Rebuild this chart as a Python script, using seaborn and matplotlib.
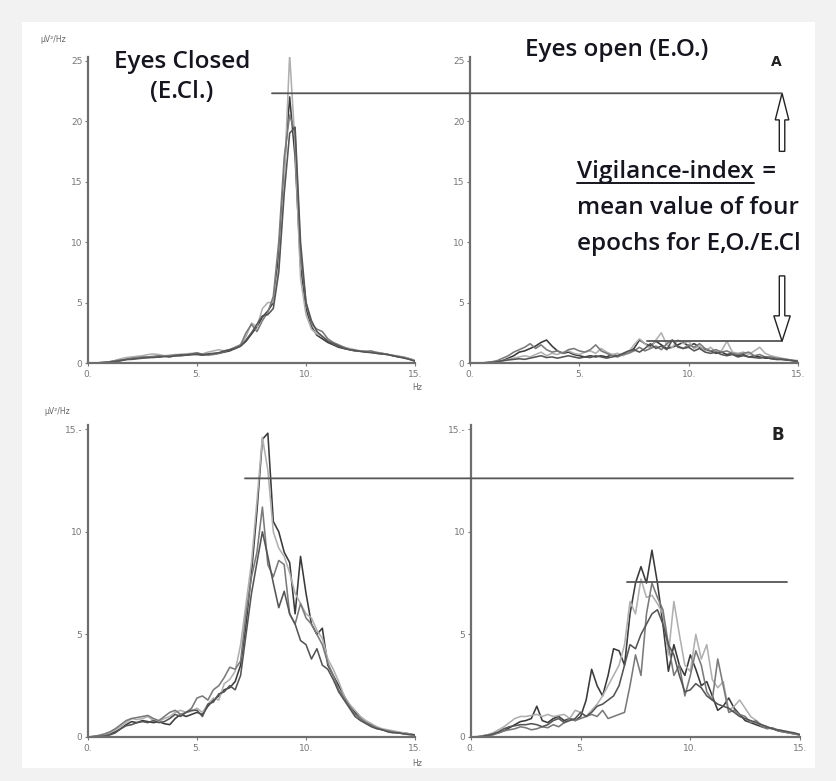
import numpy as np
import pandas as pd
import matplotlib
matplotlib.use("Agg")
import matplotlib.pyplot as plt
import seaborn as sns
from matplotlib.patches import ConnectionPatch, FancyArrow, Rectangle
from matplotlib.lines import Line2D

# ---------------- data ----------------
freq = [i * 0.25 for i in range(61)]  # 0 .. 15 Hz
epochs = ["epoch 1", "epoch 2", "epoch 3", "epoch 4"]

# A: eyes closed
a1 = [0, 0, 0.02, 0.05, 0.1, 0.15, 0.2, 0.3, 0.35, 0.4,
      0.45, 0.45, 0.5, 0.5, 0.55, 0.55, 0.6, 0.6, 0.65, 0.7,
      0.7, 0.65, 0.7, 0.75, 0.8, 0.9, 1.0, 1.2, 1.4, 1.8,
      2.4, 3.0, 3.8, 4.3, 5.0, 9.0, 16.0, 22.0, 17.0, 8.0,
      4.5, 3.0, 2.3, 2.0, 1.7, 1.5, 1.3, 1.2, 1.1, 1.0,
      1.0, 0.9, 0.9, 0.8, 0.75, 0.7, 0.6, 0.5, 0.45, 0.35, 0.2]
a2 = [0, 0, 0, 0.05, 0.1, 0.2, 0.35, 0.45, 0.5, 0.55,
      0.6, 0.7, 0.75, 0.7, 0.6, 0.65, 0.7, 0.7, 0.75, 0.8,
      0.8, 0.75, 0.9, 1.0, 1.1, 1.0, 1.1, 1.3, 1.5, 2.2,
      3.3, 3.0, 4.5, 5.0, 5.0, 8.0, 15.0, 25.5, 18.0, 7.0,
      4.0, 2.8, 2.4, 2.2, 1.9, 1.6, 1.4, 1.3, 1.2, 1.1,
      1.0, 1.0, 0.95, 0.9, 0.8, 0.7, 0.65, 0.55, 0.5, 0.35, 0.25]
a3 = [0, 0, 0.02, 0.05, 0.1, 0.2, 0.25, 0.3, 0.4, 0.45,
      0.5, 0.5, 0.55, 0.6, 0.55, 0.6, 0.65, 0.7, 0.7, 0.75,
      0.85, 0.7, 0.65, 0.7, 0.8, 0.95, 1.1, 1.3, 1.5, 2.5,
      3.2, 2.6, 3.5, 4.2, 5.5, 10.0, 17.0, 20.5, 19.0, 9.0,
      5.0, 3.2, 2.8, 2.6, 2.0, 1.7, 1.5, 1.3, 1.1, 1.0,
      1.0, 0.95, 1.0, 0.85, 0.8, 0.7, 0.6, 0.55, 0.45, 0.3, 0.15]
a4 = [0, 0, 0, 0.03, 0.08, 0.12, 0.2, 0.28, 0.3, 0.35,
      0.4, 0.45, 0.45, 0.5, 0.55, 0.5, 0.6, 0.65, 0.65, 0.7,
      0.75, 0.7, 0.75, 0.8, 0.85, 1.0, 1.1, 1.2, 1.4, 1.9,
      2.5, 3.2, 3.9, 4.0, 4.5, 7.5, 14.0, 19.0, 19.5, 10.0,
      5.0, 3.5, 2.6, 2.2, 1.8, 1.6, 1.4, 1.2, 1.1, 1.05,
      0.95, 0.9, 0.85, 0.8, 0.75, 0.7, 0.6, 0.5, 0.4, 0.3, 0.15]

# A: eyes open
b1 = [0, 0, 0, 0, 0.05, 0.1, 0.2, 0.4, 0.6, 0.9,
      1.0, 1.2, 1.4, 1.7, 1.9, 1.4, 1.0, 0.8, 0.9, 0.7,
      0.6, 0.5, 0.6, 0.5, 0.6, 0.5, 0.7, 0.6, 0.7, 0.9,
      1.2, 1.9, 1.6, 1.4, 1.8, 1.5, 1.2, 1.3, 1.5, 1.7,
      1.4, 1.6, 1.3, 1.1, 1.0, 0.8, 0.9, 0.7, 0.8, 0.6,
      0.7, 0.5, 0.6, 0.5, 0.4, 0.4, 0.3, 0.3, 0.25, 0.2, 0.1]
b2 = [0, 0, 0, 0.02, 0.05, 0.1, 0.15, 0.3, 0.4, 0.5,
      0.6, 0.5, 0.7, 0.9, 0.6, 0.8, 0.7, 0.9, 1.0, 0.8,
      0.7, 0.9, 1.0, 0.8, 1.2, 0.9, 0.7, 0.8, 0.6, 0.9,
      1.5, 2.0, 1.6, 1.2, 1.9, 2.5, 1.5, 1.3, 1.9, 1.6,
      1.8, 1.2, 1.4, 1.0, 1.3, 0.9, 1.0, 1.8, 0.9, 0.8,
      0.9, 0.7, 1.0, 1.3, 0.8, 0.6, 0.5, 0.4, 0.3, 0.25, 0.2]
b3 = [0, 0, 0, 0.05, 0.1, 0.2, 0.4, 0.6, 0.9, 1.1,
      1.3, 1.6, 1.2, 1.5, 1.1, 0.9, 1.0, 0.8, 1.1, 1.2,
      1.0, 0.9, 1.1, 1.5, 1.0, 0.8, 0.6, 0.5, 0.7, 0.8,
      1.0, 1.3, 1.0, 1.2, 1.4, 1.1, 1.6, 1.9, 1.3, 1.2,
      1.5, 1.3, 1.6, 1.2, 1.0, 1.1, 0.9, 1.0, 0.8, 0.7,
      0.8, 0.9, 0.6, 0.7, 0.5, 0.5, 0.4, 0.35, 0.3, 0.2, 0.15]
b4 = [0, 0, 0, 0.02, 0.05, 0.1, 0.2, 0.25, 0.3, 0.35,
      0.3, 0.4, 0.5, 0.6, 0.45, 0.5, 0.4, 0.5, 0.6, 0.5,
      0.4, 0.5, 0.45, 0.6, 0.5, 0.4, 0.5, 0.6, 0.8, 1.0,
      1.1, 0.9, 1.2, 1.6, 1.2, 1.4, 1.1, 1.9, 1.4, 1.2,
      1.3, 1.0, 1.2, 0.9, 0.8, 0.9, 0.7, 0.6, 0.7, 0.5,
      0.6, 0.5, 0.45, 0.4, 0.5, 0.35, 0.3, 0.3, 0.25, 0.2, 0.15]

# B: eyes closed
c1 = [0, 0.02, 0.05, 0.1, 0.15, 0.25, 0.4, 0.6, 0.75, 0.7,
      0.8, 0.75, 0.7, 0.75, 0.65, 0.6, 0.9, 1.1, 1.0, 1.1,
      1.2, 1.1, 1.5, 1.8, 2.0, 2.3, 2.4, 2.7, 3.5, 5.5,
      8.0, 11.0, 14.5, 14.8, 10.5, 10.0, 9.0, 8.5, 6.0, 8.8,
      7.0, 5.5, 5.0, 5.3, 3.5, 3.0, 2.5, 2.0, 1.5, 1.2,
      0.9, 0.7, 0.6, 0.45, 0.35, 0.3, 0.25, 0.2, 0.2, 0.15, 0.1]
c2 = [0, 0.02, 0.05, 0.1, 0.2, 0.35, 0.5, 0.7, 0.9, 0.85,
      0.9, 1.0, 0.8, 0.75, 0.9, 1.0, 1.2, 1.3, 1.2, 1.25,
      1.4, 1.2, 1.6, 1.9, 1.8, 2.6, 2.8, 3.2, 4.5, 6.5,
      8.5, 11.5, 14.6, 13.0, 10.0, 9.2, 8.8, 8.0, 7.0, 6.5,
      6.0, 5.8, 5.2, 4.8, 3.8, 3.3, 2.7, 2.0, 1.6, 1.3,
      1.0, 0.8, 0.65, 0.5, 0.4, 0.35, 0.3, 0.25, 0.2, 0.15, 0.1]
c3 = [0, 0.03, 0.08, 0.15, 0.25, 0.4, 0.6, 0.8, 0.9, 0.95,
      1.0, 1.05, 0.9, 0.8, 1.0, 1.2, 1.3, 1.1, 1.2, 1.4,
      1.9, 2.0, 1.8, 2.3, 2.5, 2.9, 3.4, 3.3, 3.7, 6.0,
      7.8, 9.0, 11.2, 8.4, 7.8, 8.6, 8.4, 6.0, 5.5, 6.5,
      5.8, 5.5, 5.0, 4.5, 3.6, 3.0, 2.3, 1.9, 1.5, 1.1,
      0.9, 0.7, 0.55, 0.45, 0.35, 0.3, 0.25, 0.2, 0.15, 0.12, 0.1]
c4 = [0, 0.01, 0.02, 0.05, 0.1, 0.2, 0.4, 0.55, 0.6, 0.7,
      0.75, 0.7, 0.8, 0.7, 0.75, 0.9, 1.1, 1.0, 1.2, 1.3,
      1.3, 1.0, 1.6, 1.7, 2.1, 2.2, 2.5, 2.3, 3.0, 5.0,
      7.0, 8.5, 10.0, 8.8, 7.5, 6.3, 7.1, 6.0, 5.5, 4.7,
      4.5, 3.8, 4.3, 3.5, 3.3, 2.8, 2.2, 1.8, 1.4, 1.0,
      0.8, 0.65, 0.5, 0.4, 0.35, 0.25, 0.2, 0.2, 0.15, 0.12, 0.1]

# B: eyes open
d1 = [0, 0, 0.05, 0.1, 0.15, 0.2, 0.3, 0.45, 0.6, 0.75,
      0.8, 0.9, 1.5, 0.8, 0.7, 0.9, 1.0, 0.8, 0.9, 0.8,
      1.0, 1.8, 3.3, 2.5, 2.0, 3.0, 4.3, 4.2, 3.5, 6.0,
      7.5, 8.3, 7.5, 9.1, 7.5, 5.5, 3.2, 4.5, 3.5, 3.0,
      4.0, 3.3, 2.5, 2.7, 2.0, 1.3, 1.5, 1.9, 1.4, 1.1,
      0.8, 0.7, 0.6, 0.5, 0.45, 0.4, 0.3, 0.25, 0.2, 0.15, 0.1]
d2 = [0, 0.02, 0.05, 0.1, 0.2, 0.35, 0.5, 0.7, 0.9, 1.0,
      1.0, 1.05, 1.1, 1.0, 1.1, 1.0, 1.05, 1.1, 0.9, 1.3,
      1.2, 1.0, 1.3, 1.6, 2.0, 2.5, 3.0, 3.5, 4.5, 6.6,
      6.0, 7.7, 6.8, 6.9, 6.5, 6.0, 4.0, 6.6, 5.0, 3.5,
      3.2, 5.0, 3.8, 4.5, 2.8, 2.4, 2.7, 1.3, 1.5, 1.8,
      1.4, 1.0, 0.8, 0.6, 0.5, 0.4, 0.35, 0.3, 0.2, 0.15, 0.12]
d3 = [0, 0, 0.02, 0.05, 0.1, 0.2, 0.3, 0.35, 0.4, 0.5,
      0.45, 0.35, 0.4, 0.5, 0.45, 0.6, 0.5, 0.7, 0.9, 0.8,
      0.9, 1.0, 1.1, 1.0, 1.3, 0.9, 1.0, 1.1, 1.2, 2.5,
      4.0, 3.0, 6.0, 7.5, 6.8, 6.2, 4.5, 3.0, 3.5, 2.0,
      3.0, 4.2, 3.5, 2.2, 1.8, 3.8, 2.5, 1.2, 1.3, 1.1,
      1.0, 0.7, 0.8, 0.5, 0.4, 0.45, 0.3, 0.25, 0.2, 0.15, 0.1]
d4 = [0, 0, 0.03, 0.08, 0.15, 0.25, 0.4, 0.5, 0.55, 0.6,
      0.6, 0.65, 0.6, 0.5, 0.6, 0.8, 0.9, 0.7, 0.8, 0.9,
      1.2, 1.0, 1.2, 1.5, 1.6, 1.8, 2.0, 2.5, 3.5, 4.5,
      4.3, 5.0, 5.5, 6.0, 6.2, 5.5, 4.5, 4.0, 3.0, 2.2,
      2.3, 2.6, 2.4, 2.0, 1.8, 1.6, 1.5, 1.4, 1.2, 1.0,
      0.9, 0.8, 0.7, 0.6, 0.5, 0.4, 0.35, 0.3, 0.25, 0.2, 0.12]

# vigilance (mean) levels
vig_A_closed = 22.3
vig_A_open = 1.8
vig_B_closed = 12.6
vig_B_open = 7.55

xticks = [0, 5, 10, 15]
xtick_labels = ["0.", "5.", "10.", "15."]
yticks_A = [0, 5, 10, 15, 20, 25]
ytick_labels_A = ["0", "5", "10", "15", "20", "25"]
yticks_B = [0, 5, 10, 15]
ytick_labels_B = ["0", "5", "10", "15.-"]

# ---------------- figure ----------------
W, H = 837, 781
sns.set_theme(style="white")
plt.rcParams["font.family"] = ["DejaVu Sans"]

fig = plt.figure(figsize=(W / 100, H / 100), dpi=100)
fig.patch.set_facecolor("#f2f2f2")
fig.add_artist(Rectangle((22 / W, 1 - 768 / H), (815 - 22) / W, (768 - 22) / H,
                         transform=fig.transFigure, facecolor="white",
                         edgecolor="none", zorder=0))


def px(x, y):
    return (x / W, 1 - y / H)


def make_ax(l, r, top, bot):
    return fig.add_axes([l / W, 1 - bot / H, (r - l) / W, (bot - top) / H])


axAL = make_ax(88, 415, 57, 363)
axAR = make_ax(470, 798, 57, 363)
axBL = make_ax(88, 415, 425, 737)
axBR = make_ax(471, 800, 425, 737)

palette = ["#3a3a3a", "#b0b0b0", "#7a7a7a", "#555555"]


def draw(ax, series, yt, ytl, ymax):
    df = pd.DataFrame({
        "Hz": np.tile(freq, 4),
        "power": np.concatenate(series),
        "epoch": np.repeat(epochs, len(freq)),
    })
    sns.lineplot(data=df, x="Hz", y="power", hue="epoch", palette=palette,
                 legend=False, ax=ax, linewidth=1.15, estimator=None)
    ax.set_xlim(0, 15)
    ax.set_ylim(0, ymax)
    ax.set_facecolor("none")
    ax.set_xlabel("")
    ax.set_ylabel("")
    for s in ["top", "right"]:
        ax.spines[s].set_visible(False)
    for s in ["left", "bottom"]:
        ax.spines[s].set_color("#6e6e6e")
        ax.spines[s].set_linewidth(1.6)
    ax.set_xticks(xticks)
    ax.set_xticklabels(xtick_labels)
    ax.set_yticks(yt)
    ax.set_yticklabels(ytl)
    ax.tick_params(axis="both", labelsize=6.5, colors="#777777",
                   length=2, width=0.8, pad=2, direction="out",
                   left=True, bottom=True)
    ax.tick_params(axis="x", pad=3)


draw(axAL, [a1, a2, a3, a4], yticks_A, ytick_labels_A, 25.3)
draw(axAR, [b1, b2, b3, b4], yticks_A, ytick_labels_A, 25.3)
draw(axBL, [c1, c2, c3, c4], yticks_B, ytick_labels_B, 15.2)
draw(axBR, [d1, d2, d3, d4], yticks_B, ytick_labels_B, 15.2)

# vigilance lines
line_kw = dict(color="#555555", linewidth=1.3, zorder=5)
fig.add_artist(ConnectionPatch(xyA=(8.44, vig_A_closed), coordsA=axAL.transData,
                               xyB=(14.27, vig_A_closed), coordsB=axAR.transData,
                               **line_kw))
axAR.plot([8.1, 14.27], [vig_A_open, vig_A_open], clip_on=False, **line_kw)
fig.add_artist(ConnectionPatch(xyA=(7.2, vig_B_closed), coordsA=axBL.transData,
                               xyB=(14.68, vig_B_closed), coordsB=axBR.transData,
                               **line_kw))
axBR.plot([7.1, 14.4], [vig_B_open, vig_B_open], clip_on=False, **line_kw)

# hollow arrows
arrow_kw = dict(facecolor="white", edgecolor="#222222", linewidth=1.0,
                length_includes_head=True, zorder=6, clip_on=False)
axAR.add_patch(FancyArrow(14.27, 17.5, 0, vig_A_closed - 17.5, width=0.25,
                          head_width=0.62, head_length=2.2, **arrow_kw))
axAR.add_patch(FancyArrow(14.27, 7.2, 0, vig_A_open - 7.2, width=0.25,
                          head_width=0.75, head_length=2.1, **arrow_kw))

# small axis titles
small = dict(fontsize=5.5, color="#666666")
fig.text(*px(40, 40), "μV²/Hz", ha="left", va="center", **small)
fig.text(*px(44, 411), "μV²/Hz", ha="left", va="center", **small)
fig.text(*px(417, 388), "Hz", ha="center", va="center", **small)
fig.text(*px(417, 763), "Hz", ha="center", va="center", **small)

# big labels
big = dict(family=["Open Sans", "DejaVu Sans"], fontweight="semibold",
           fontsize=17.5, color="#15151f")
fig.text(*px(182, 62), "Eyes Closed", ha="center", va="center", **big)
fig.text(*px(182, 92), "(E.Cl.)", ha="center", va="center", **big)
fig.text(*px(617, 50), "Eyes open (E.O.)", ha="center", va="center", **big)
t1 = fig.text(*px(577, 172), "Vigilance-index", ha="left", va="center", **big)
fig.canvas.draw()
r = fig.canvas.get_renderer()
bb = t1.get_window_extent(renderer=r)
fig.text((bb.x1 + 2) / W, 1 - 172 / H, " =", ha="left", va="center", **big)
fig.add_artist(Line2D([bb.x0 / W, bb.x1 / W], [1 - 183 / H, 1 - 183 / H],
                      transform=fig.transFigure, color="#15151f", linewidth=1.4))
fig.text(*px(577, 208), "mean value of four", ha="left", va="center", **big)
fig.text(*px(577, 244), "epochs for E,O./E.Cl", ha="left", va="center", **big)

fig.text(*px(776, 62), "A", ha="center", va="center", fontsize=10,
         fontweight="bold", color="#222222")
fig.text(*px(778, 435), "B", ha="center", va="center", fontsize=12,
         fontweight="bold", color="#222222")

fig.savefig("out.png", dpi=100, facecolor=fig.get_facecolor())
